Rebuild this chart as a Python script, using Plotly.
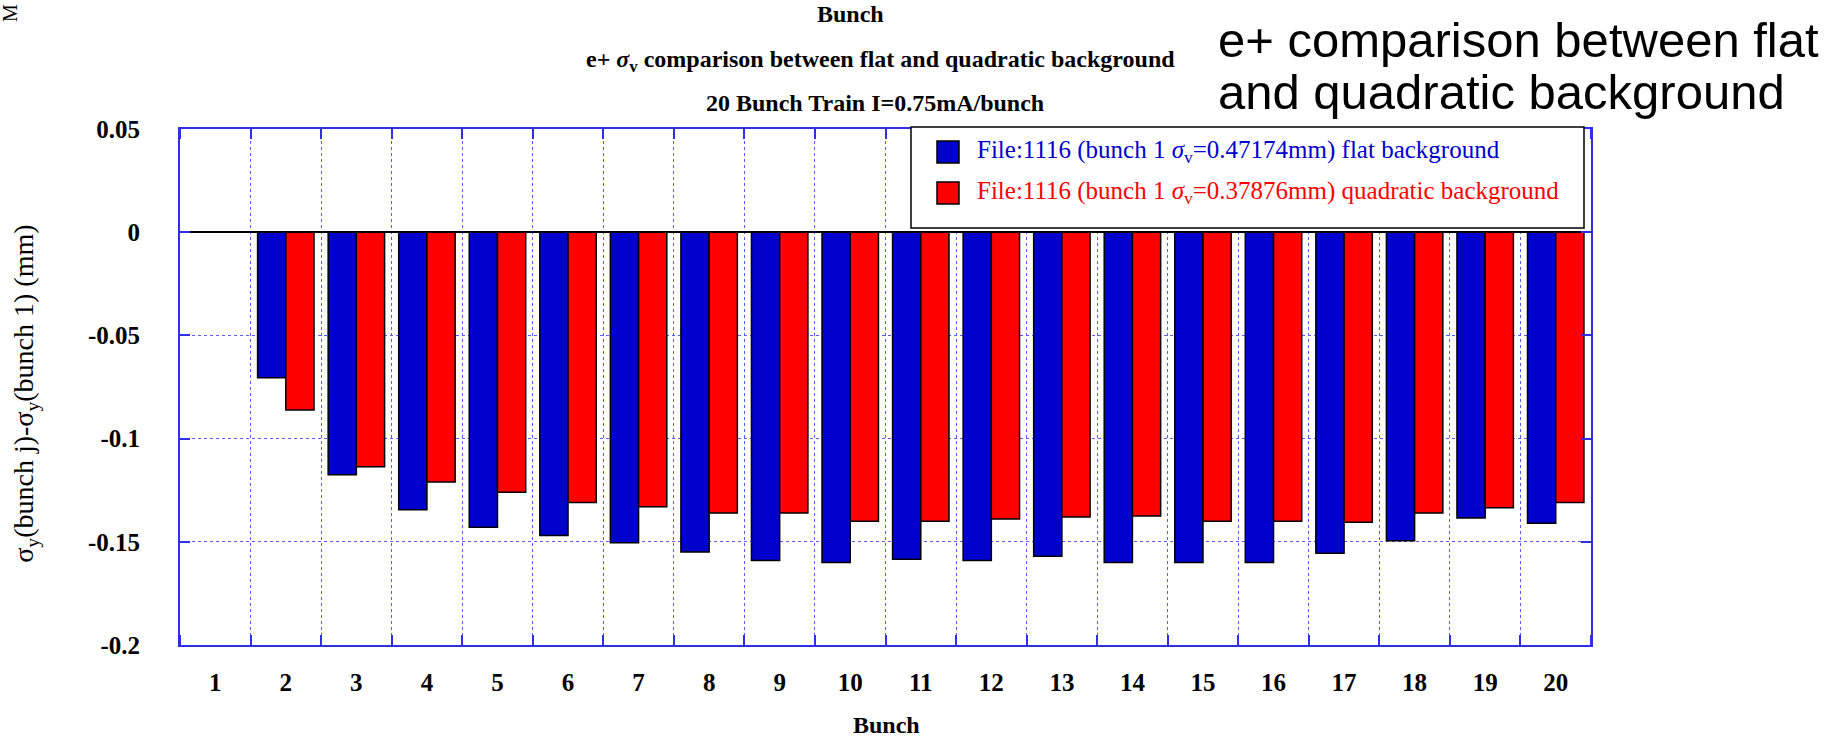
import plotly.graph_objects as go

# ---- data -------------------------------------------------------------
bunches = list(range(1, 21))
flat_bg = [0.0, -0.0705, -0.1175, -0.1345, -0.1430, -0.1470, -0.1505, -0.1550,
           -0.1590, -0.1600, -0.1585, -0.1590, -0.1570, -0.1600, -0.1600, -0.1600,
           -0.1555, -0.1495, -0.1385, -0.1410]
quad_bg = [0.0, -0.0862, -0.1136, -0.1210, -0.1260, -0.1310, -0.1330, -0.1360,
           -0.1360, -0.1400, -0.1400, -0.1390, -0.1380, -0.1375, -0.1400, -0.1400,
           -0.1405, -0.1360, -0.1335, -0.1310]
y_tickvals = [0.05, 0.0, -0.05, -0.1, -0.15, -0.2]
y_ticktext = ["0.05", "0", "-0.05", "-0.1", "-0.15", "-0.2"]

flat_label = "File:1116 (bunch 1 <i>σ</i><sub>v</sub>=0.47174mm) flat background"
quad_label = "File:1116 (bunch 1 <i>σ</i><sub>v</sub>=0.37876mm) quadratic background"

# ---- page geometry (pixels) -----------------------------------------
W, H = 1844, 740
PL, PR, PT, PB = 180, 1591, 129, 645.5
SERIF = "Liberation Serif"
SANS = "Liberation Sans"
BLUE = "#0000cc"
RED = "#ff0000"
FRAME = "#2f2fe8"
GRID = "#5a5aff"


def xp(px):
    return (px - PL) / (PR - PL)


def yp(py):
    return (PB - py) / (PB - PT)


fig = go.Figure()
fig.add_trace(go.Bar(x=bunches, y=flat_bg, name=flat_label,
                     marker=dict(color=BLUE, line=dict(color="black", width=1.5)),
                     showlegend=False))
fig.add_trace(go.Bar(x=bunches, y=quad_bg, name=quad_label,
                     marker=dict(color=RED, line=dict(color="black", width=1.5)),
                     showlegend=False))

tick_font = dict(family=SERIF, size=25, color="black", weight="bold")

fig.update_layout(
    width=W, height=H,
    margin=dict(l=PL, r=W - PR, t=PT, b=H - PB, pad=0),
    paper_bgcolor="white", plot_bgcolor="white",
    barmode="group", bargap=0.2, bargroupgap=0.0,
    xaxis=dict(
        range=[0.5, 20.5], tickmode="array", tickvals=bunches,
        ticktext=[str(b) for b in bunches], ticks="", showgrid=False,
        zeroline=False, showline=True, linecolor=FRAME, linewidth=2,
        mirror="ticks", tickfont=tick_font, ticklabelstandoff=14,
        minor=dict(tick0=0.5, dtick=1, showgrid=True, gridcolor=GRID,
                   griddash="dot", gridwidth=1, ticks="inside", ticklen=10,
                   tickcolor=FRAME, tickwidth=1.5),
    ),
    yaxis=dict(
        range=[-0.2, 0.05], tickmode="array", tickvals=y_tickvals,
        ticktext=y_ticktext, ticks="inside", ticklen=10, tickcolor=FRAME,
        tickwidth=1.5, showgrid=True, gridcolor=GRID, griddash="dot",
        gridwidth=1, zeroline=True, zerolinecolor="black", zerolinewidth=1.5,
        showline=True, linecolor=FRAME, linewidth=2, mirror="ticks",
        tickfont=tick_font, ticklabelstandoff=33,
    ),
)

annotations = []


def add_text(text, x, y, size, family=SERIF, color="black", xanchor="center",
             yanchor="middle", angle=0, align="center"):
    annotations.append(dict(
        text=text, x=xp(x), y=yp(y), xref="paper", yref="paper",
        showarrow=False, xanchor=xanchor, yanchor=yanchor, align=align,
        textangle=angle, font=dict(family=family, size=size, color=color)))


cx = (PL + PR) / 2
# titles above the frame
add_text("<b>Bunch</b>", 850, 14, 24)
add_text("<b>e+ <i>σ</i><sub>v</sub> comparison between flat and quadratic background</b>",
         880, 61, 24)
add_text("<b>20 Bunch Train I=0.75mA/bunch</b>", 875, 103, 24)
# axis titles
add_text("<b>Bunch</b>", 886, 726, 24)
add_text("σ<sub>y</sub>(bunch j)-σ<sub>y</sub>(bunch 1) (mm)", 26, 394, 28, angle=-90)
# fragment of a rotated label in the corner
add_text("M", 10, 13, 20, angle=-90)
# slide caption on the right
add_text("e+ comparison between flat", 1216, 40, 49, family=SANS,
         xanchor="left", align="left")
add_text("and quadratic background", 1216, 92, 49, family=SANS,
         xanchor="left", align="left")

# legend box drawn in pixel space
LX0, LX1, LY0, LY1 = 911, 1584, 127, 228
shapes = [
    dict(type="rect", xref="paper", yref="paper", x0=xp(LX0), x1=xp(LX1),
         y0=yp(LY1), y1=yp(LY0), fillcolor="white",
         line=dict(color="black", width=1.5), layer="above"),
]
for col, label, ly in [(BLUE, flat_label, 152), (RED, quad_label, 193)]:
    shapes.append(dict(type="rect", xref="paper", yref="paper",
                       x0=xp(937), x1=xp(959), y0=yp(ly + 11), y1=yp(ly - 11),
                       fillcolor=col, line=dict(color="black", width=1.5),
                       layer="above"))
    add_text(label, 975, ly, 25, color=col, xanchor="left", align="left")

fig.update_layout(annotations=annotations, shapes=shapes)

fig.write_html("out.html")
